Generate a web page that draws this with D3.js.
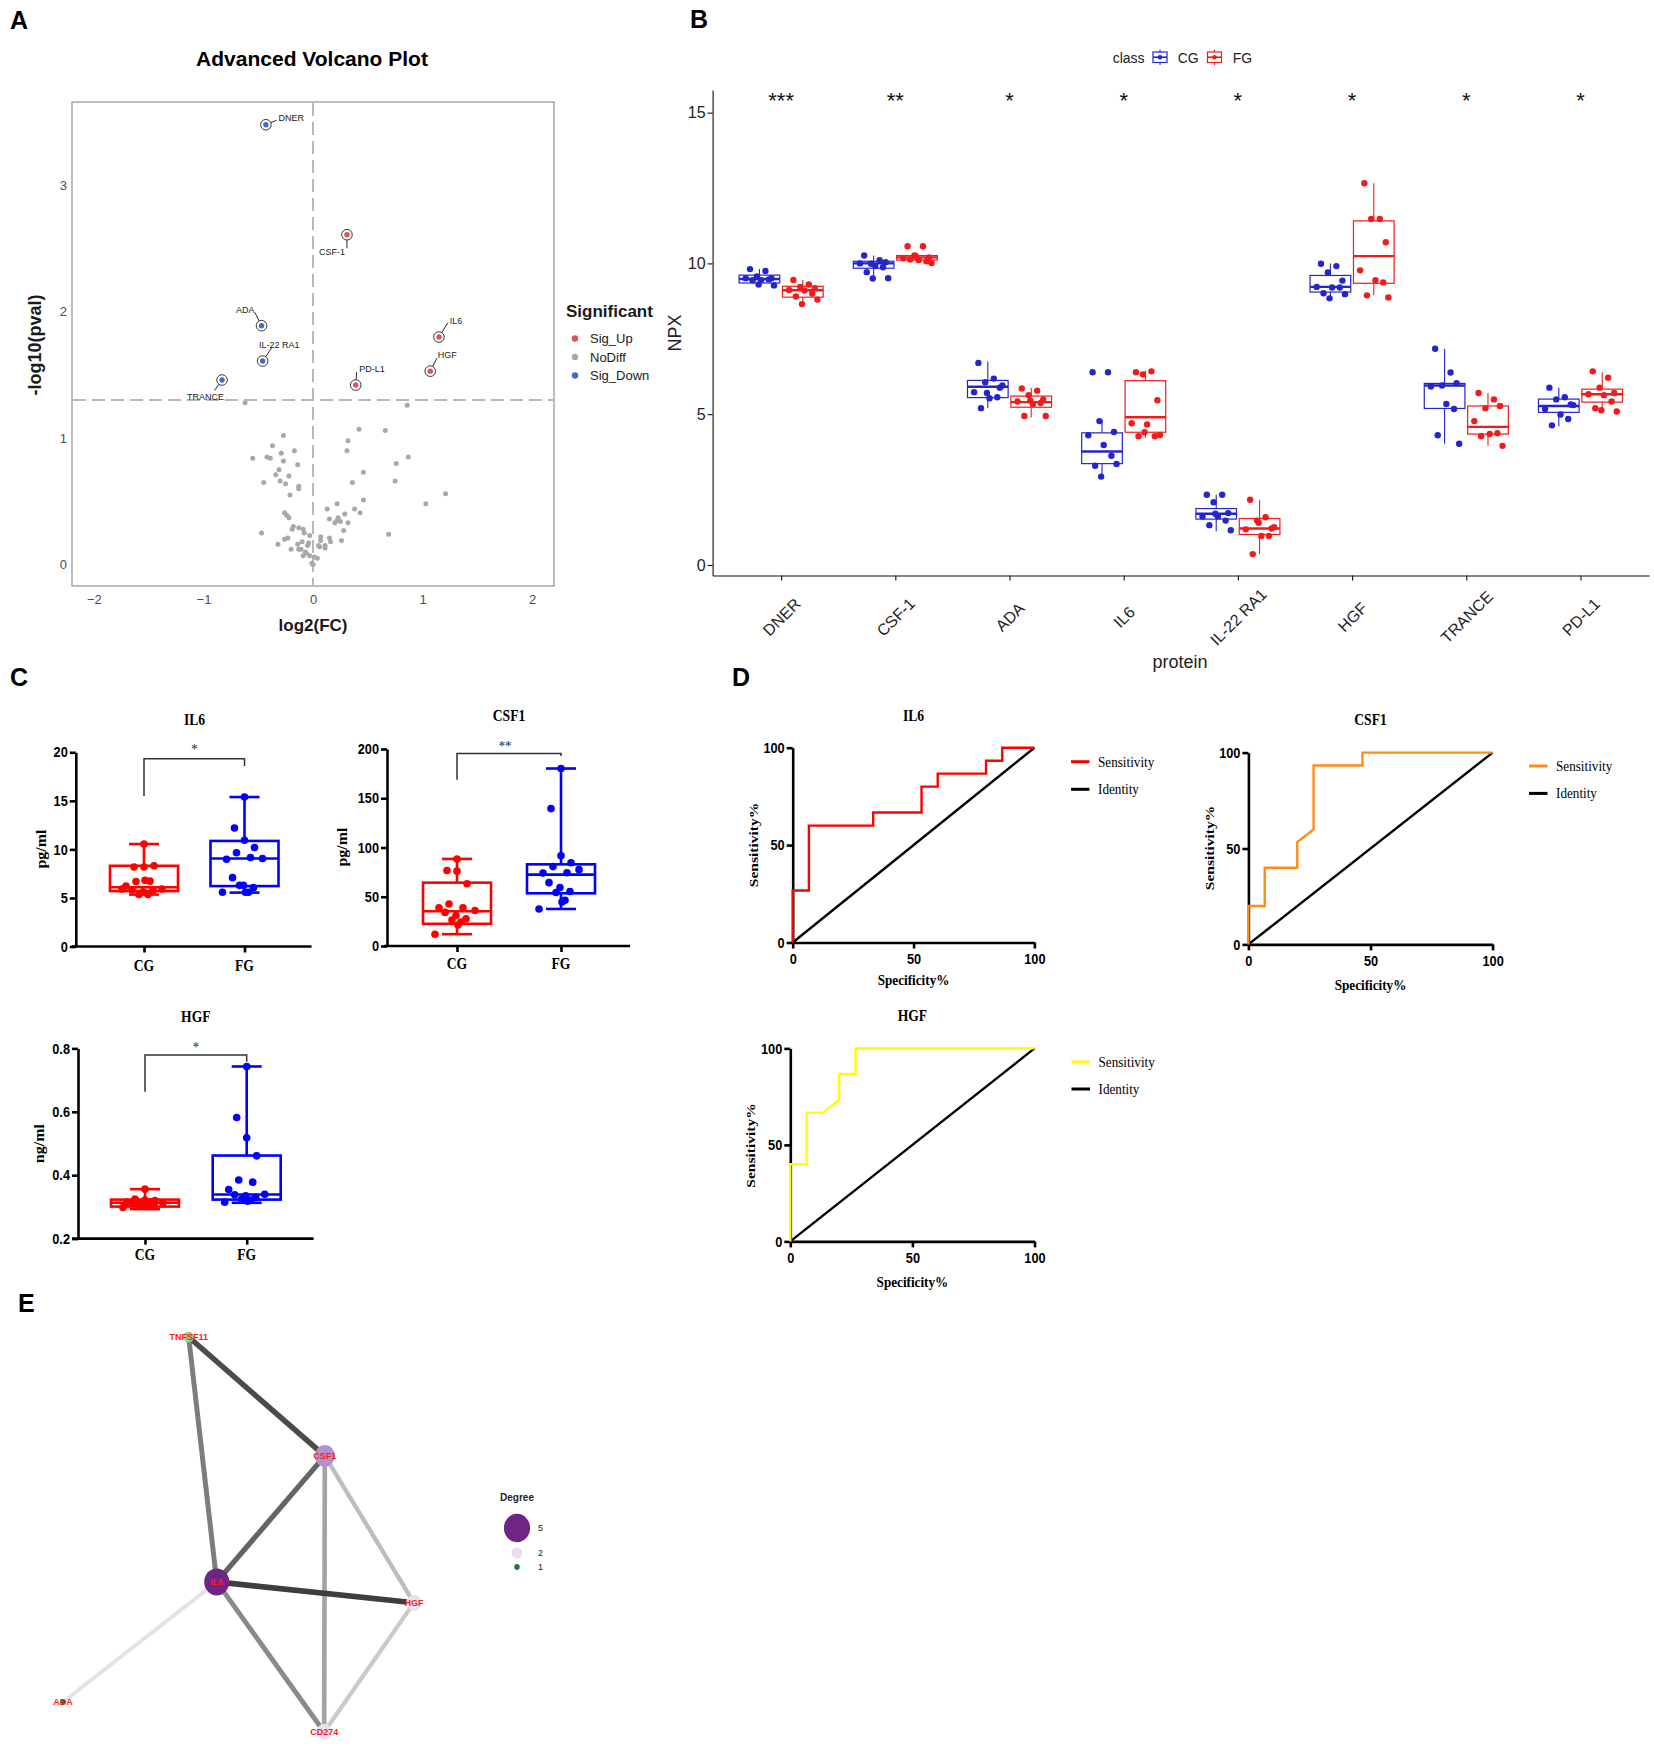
<!DOCTYPE html>
<html>
<head>
<meta charset="utf-8">
<script src="https://cdn.jsdelivr.net/npm/d3@7"></script>
<style>
  body { margin: 0; background: #fff; }
  svg { display: block; }
</style>
</head>
<body>
<div id="fig"></div>
<script>
// ---------------- data ----------------
// A: volcano
var sigLevels = ["Sig_Up", "NoDiff", "Sig_Down"];
var volcanoSig = [
  {gene: "DNER", fc: -0.43, logp: 3.48, sig: "Sig_Down"},
  {gene: "CSF-1", fc: 0.31, logp: 2.61, sig: "Sig_Up"},
  {gene: "ADA", fc: -0.47, logp: 1.89, sig: "Sig_Down"},
  {gene: "IL-22 RA1", fc: -0.46, logp: 1.61, sig: "Sig_Down"},
  {gene: "TRANCE", fc: -0.83, logp: 1.46, sig: "Sig_Down"},
  {gene: "PD-L1", fc: 0.39, logp: 1.42, sig: "Sig_Up"},
  {gene: "HGF", fc: 1.07, logp: 1.53, sig: "Sig_Up"},
  {gene: "IL6", fc: 1.15, logp: 1.80, sig: "Sig_Up"}
];
var volcanoNoDiff = [
  [-0.62,1.28],[0.86,1.26],[-0.27,1.02],[0.42,1.07],[0.66,1.06],[0.32,0.98],[-0.37,0.94],[-0.29,0.88],[-0.17,0.90],[0.31,0.90],
  [-0.55,0.84],[-0.42,0.85],[-0.39,0.84],[-0.27,0.82],[-0.14,0.79],[0.87,0.85],[0.76,0.80],[-0.31,0.75],[-0.34,0.71],[-0.22,0.70],
  [0.46,0.73],[-0.30,0.66],[-0.45,0.65],[-0.25,0.64],[0.75,0.66],[0.36,0.65],[-0.13,0.62],[-0.13,0.60],[1.21,0.56],[-0.21,0.55],
  [0.46,0.51],[1.03,0.48],[0.22,0.48],[0.13,0.44],[0.38,0.44],[0.29,0.40],[0.23,0.37],[0.43,0.41],[-0.26,0.41],[-0.24,0.39],
  [-0.22,0.37],[0.15,0.36],[0.22,0.35],[0.20,0.33],[0.25,0.34],[0.32,0.33],[-0.18,0.30],[-0.19,0.28],[-0.13,0.29],[-0.09,0.28],
  [-0.08,0.25],[0.28,0.27],[-0.47,0.25],[0.69,0.24],[-0.03,0.23],[-0.23,0.21],[-0.26,0.20],[0.07,0.22],[0.15,0.21],[-0.10,0.18],
  [-0.04,0.17],[0.07,0.19],[0.16,0.18],[0.26,0.19],[-0.32,0.16],[-0.14,0.16],[0.05,0.15],[0.11,0.15],[0.11,0.13],[-0.20,0.12],
  [-0.13,0.12],[-0.11,0.12],[-0.05,0.15],[-0.06,0.09],[-0.03,0.07],[-0.07,0.10],[0.01,0.06],[0.04,0.05],[-0.01,0.01],[0.00,0.00],
  [-0.09,0.07],[0.06,0.14]
];

// B: NPX box plots  [lo, q1, median, q3, hi]
var proteins = ["DNER", "CSF-1", "ADA", "IL6", "IL-22 RA1", "HGF", "TRANCE", "PD-L1"];
var classes = ["CG", "FG"];
var npxStars = ["***", "**", "*", "*", "*", "*", "*", "*"];
var npxBoxCG = [
  [9.22, 9.35, 9.48, 9.61, 9.81], [9.50, 9.84, 10.00, 10.07, 10.26], [5.20, 5.55, 5.91, 6.12, 6.75],
  [2.93, 3.36, 3.76, 4.38, 4.81], [1.12, 1.52, 1.70, 1.87, 2.33], [8.79, 9.05, 9.22, 9.60, 10.00],
  [4.02, 5.19, 5.95, 6.02, 7.17], [4.60, 5.06, 5.27, 5.50, 5.88]
];
var npxBoxFG = [
  [8.65, 8.88, 9.11, 9.24, 9.45], [10.00, 10.11, 10.20, 10.26, 10.35], [4.89, 5.23, 5.40, 5.60, 5.88],
  [4.22, 4.40, 4.90, 6.11, 6.45], [0.36, 1.01, 1.21, 1.54, 2.16], [8.94, 9.34, 10.24, 11.41, 12.66],
  [3.95, 4.34, 4.58, 5.27, 5.70], [5.06, 5.40, 5.66, 5.83, 6.39]
];
var npxPointsCG = [
  [9.81, 9.75, 9.57, 9.51, 9.51, 9.44, 9.47, 9.44, 9.27, 9.30],
  [10.26, 10.11, 9.99, 10.04, 10.00, 9.91, 9.87, 9.71, 9.51, 9.50],
  [6.70, 6.18, 6.06, 5.88, 5.73, 5.53, 5.56, 5.20, 5.95, 5.70],
  [6.39, 6.39, 4.77, 4.41, 4.30, 3.98, 3.62, 3.29, 3.35, 2.93],
  [2.33, 2.33, 2.08, 1.72, 1.61, 1.61, 1.47, 1.32, 1.15, 1.70],
  [9.99, 9.91, 9.70, 9.43, 9.22, 9.20, 9.20, 9.01, 8.98, 8.84],
  [7.17, 6.38, 5.95, 6.03, 5.92, 5.34, 5.17, 4.30, 4.02],
  [5.88, 5.56, 5.49, 5.32, 5.17, 4.99, 4.84, 4.63, 5.30]
];
var npxPointsFG = [
  [9.45, 9.30, 9.22, 9.18, 9.12, 9.10, 9.00, 8.90, 8.80, 8.65],
  [10.57, 10.57, 10.26, 10.20, 10.17, 10.11, 10.07, 10.13, 10.01, 10.22],
  [5.85, 5.78, 5.63, 5.49, 5.42, 5.34, 5.37, 4.94, 4.94, 5.45],
  [6.39, 6.42, 6.32, 5.46, 4.70, 4.66, 4.27, 4.27, 4.31, 4.40],
  [2.16, 1.58, 1.47, 1.21, 1.18, 0.96, 0.96, 0.36, 1.25, 1.40],
  [12.66, 11.47, 11.47, 10.70, 9.77, 9.44, 9.37, 8.94, 8.87],
  [5.70, 5.49, 5.20, 5.27, 4.77, 4.34, 4.37, 4.27, 3.95],
  [6.42, 6.21, 5.88, 5.70, 5.66, 5.63, 5.42, 5.20, 5.09, 5.13]
];

// C: ELISA  [min, q1, median, q3, max]
var elisaNames = ["IL6", "CSF1", "HGF"];
var elisaUnits = ["pg/ml", "pg/ml", "ng/ml"];
var elisaStars = ["*", "**", "*"];
var elisaDomains = [[0, 20], [0, 200], [0.2, 0.8]];
var elisaTicks = [[0, 5, 10, 15, 20], [0, 50, 100, 150, 200], [0.2, 0.4, 0.6, 0.8]];
var elisaBoxCG = [[5.35, 5.71, 6.10, 8.31, 10.55], [12.0, 22.5, 35.3, 64.3, 88.4], [0.293, 0.301, 0.313, 0.323, 0.356]];
var elisaBoxFG = [[5.55, 6.22, 9.06, 10.87, 15.39], [37.6, 53.5, 72.5, 82.9, 180.2], [0.313, 0.323, 0.339, 0.462, 0.743]];
var elisaPointsCG = [
  [10.55, 8.19, 8.19, 8.31, 6.69, 6.73, 6.22, 5.91, 5.83, 5.63, 5.83, 5.35, 5.35, 6.81, 5.91],
  [88.4, 76.7, 76.0, 63.2, 42.6, 38.8, 38.8, 36.0, 34.1, 31.0, 27.5, 26.4, 24.4, 21.3, 12.0],
  [0.356, 0.325, 0.322, 0.320, 0.318, 0.316, 0.315, 0.313, 0.312, 0.310, 0.308, 0.306, 0.305, 0.302, 0.298]
];
var elisaPointsFG = [
  [15.39, 12.2, 10.94, 10.2, 9.65, 9.17, 8.98, 9.06, 7.09, 6.3, 6.06, 6.3, 5.59, 5.59, 5.59],
  [180.2, 139.5, 91.5, 84.5, 80.6, 74.4, 74.0, 77.5, 64.3, 59.3, 55.4, 54.3, 46.5, 44.6, 37.6],
  [0.743, 0.582, 0.518, 0.461, 0.385, 0.378, 0.355, 0.340, 0.338, 0.335, 0.330, 0.325, 0.322, 0.318, 0.315]
];

// D: ROC curves  [100 - specificity, sensitivity]
var rocNames = ["IL6", "CSF1", "HGF"];
var rocColors = ["#ff0000", "#ff8c1a", "#ffff00"];
var rocIL6 = [[0,0],[0,26.7],[6.7,26.7],[6.7,60],[33.3,60],[33.3,66.7],[53.3,66.7],[53.3,80],[60,80],[60,86.7],[80,86.7],[80,93.3],[86.7,93.3],[86.7,100],[100,100]];
var rocCSF1 = [[0,0],[0,20],[6.7,20],[6.7,40],[20,40],[20,53.3],[26.7,60],[26.7,93.3],[46.7,93.3],[46.7,100],[100,100]];
var rocHGF = [[0,0],[0,40],[6.7,40],[6.7,66.7],[13.3,66.7],[20,73.3],[20,86.7],[26.7,86.7],[26.7,100],[100,100]];
var rocIdentity = [[0,0],[100,100]];

// E: interaction network (layout units 0-100)
var netNodes = [
  {id: "TNFSF11", x: 35.8, y: 0, degree: 2},
  {id: "CSF1", x: 74.6, y: 30.1, degree: 4},
  {id: "IL6", x: 43.8, y: 62, degree: 5},
  {id: "HGF", x: 100, y: 67.3, degree: 3},
  {id: "ADA", x: 0, y: 92.4, degree: 1},
  {id: "CD274", x: 74.4, y: 100, degree: 3}
];
var netEdges = [
  ["IL6", "ADA", 0.30], ["HGF", "CD274", 0.40], ["CSF1", "HGF", 0.45], ["CSF1", "CD274", 0.55],
  ["IL6", "CD274", 0.65], ["TNFSF11", "IL6", 0.70], ["CSF1", "IL6", 0.80], ["TNFSF11", "CSF1", 0.90],
  ["IL6", "HGF", 0.95]
];
var degreeLegend = [5, 2, 1];

// ---------------- layout ----------------
var W = 1654, H = 1747;
var SANS = "'Liberation Sans', Arial, sans-serif";
var SERIF = "'Liberation Serif', 'Times New Roman', serif";

var svg = d3.select("#fig").append("svg")
  .attr("width", W).attr("height", H)
  .style("font-family", SANS);
svg.append("rect").attr("width", W).attr("height", H).attr("fill", "#fff");

function txt(g, x, y, s, o) {
  o = o || {};
  var sx = o.sx == null ? 1 : o.sx;
  var tr = "translate(" + x + "," + y + ")";
  if (o.rot) tr += " rotate(" + o.rot + ") scale(1," + sx + ")";
  else tr += " scale(" + sx + ",1)";
  return g.append("text")
    .attr("transform", tr)
    .attr("text-anchor", o.anchor || "middle")
    .attr("dominant-baseline", o.base || "auto")
    .style("font-family", o.font || SANS)
    .style("font-size", (o.size || 12) + "px")
    .style("font-weight", o.bold ? "bold" : "normal")
    .style("fill", o.fill || "#000")
    .text(s);
}

// panel letters
[["A", 10, 29], ["B", 690, 28], ["C", 10, 686], ["D", 732, 686], ["E", 18, 1312]].forEach(function(p) {
  txt(svg, p[1], p[2], p[0], {anchor: "start", size: 25, bold: true});
});

// ================= A: volcano =================
var gA = svg.append("g");
var xA = d3.scaleLinear().domain([-2.2, 2.2]).range([72, 554]);
var yA = d3.scaleLinear().domain([-0.17, 3.66]).range([586, 102]);
var sigColor = d3.scaleOrdinal().domain(sigLevels).range(["#e0505f", "#a8a8a8", "#3b72bf"]);

txt(gA, 312, 66, "Advanced Volcano Plot", {size: 21, bold: true});

gA.append("g").attr("transform", "translate(0,586)")
  .call(d3.axisBottom(xA).tickValues([-2, -1, 0, 1, 2]).tickSize(0).tickPadding(9).tickFormat(d3.format("d")))
  .call(function(g) { g.select(".domain").remove(); })
  .selectAll("text").style("font-size", "13px").style("fill", "#4d4d4d").style("font-family", SANS);
gA.append("g").attr("transform", "translate(72,0)")
  .call(d3.axisLeft(yA).tickValues([0, 1, 2, 3]).tickSize(0).tickPadding(5).tickFormat(d3.format("d")))
  .call(function(g) { g.select(".domain").remove(); })
  .selectAll("text").style("font-size", "13px").style("fill", "#4d4d4d").style("font-family", SANS);

// threshold lines
gA.append("line").attr("x1", xA(0)).attr("x2", xA(0)).attr("y1", 103).attr("y2", 585)
  .attr("stroke", "#b8b8b8").attr("stroke-width", 2).attr("stroke-dasharray", "13,6");
gA.append("line").attr("x1", 73).attr("x2", 553).attr("y1", yA(-Math.log10(0.05))).attr("y2", yA(-Math.log10(0.05)))
  .attr("stroke", "#b8b8b8").attr("stroke-width", 2).attr("stroke-dasharray", "13,6");

gA.append("g").selectAll("circle").data(volcanoNoDiff).enter().append("circle")
  .attr("cx", function(d) { return xA(d[0]); })
  .attr("cy", function(d) { return yA(d[1]); })
  .attr("r", 2.5)
  .attr("fill", sigColor("NoDiff"));

// repel label placement (pixels relative to point)
var labelPos = {
  "DNER":      {dx: 12.5, dy: -6.3, anchor: "start", sx: 10.5, sy: -4.5},
  "CSF-1":     {dx: -2, dy: 17.3, anchor: "end", sx: 0, sy: 13.5},
  "ADA":       {dx: -7, dy: -16, anchor: "end", sx: -6.7, sy: -13.3},
  "IL-22 RA1": {dx: 16.7, dy: -16, anchor: "middle", sx: 9.3, sy: -13.5},
  "TRANCE":    {dx: -16.5, dy: 16.8, anchor: "middle", sx: -7.6, sy: 10.5},
  "PD-L1":     {dx: 3.6, dy: -16.4, anchor: "start", sx: 0.9, sy: -13},
  "HGF":       {dx: 7.6, dy: -16, anchor: "start", sx: 6.7, sy: -13},
  "IL6":       {dx: 10.7, dy: -16, anchor: "start", sx: 8.9, sy: -14.3}
};
var sigG = gA.append("g");
volcanoSig.forEach(function(d) {
  var px = xA(d.fc), py = yA(d.logp), L = labelPos[d.gene];
  var len = Math.sqrt(L.sx * L.sx + L.sy * L.sy);
  sigG.append("line")
    .attr("x1", px + L.sx / len * 5.3).attr("y1", py + L.sy / len * 5.3)
    .attr("x2", px + L.sx).attr("y2", py + L.sy)
    .attr("stroke", "#111").attr("stroke-width", 0.9);
  sigG.append("circle").attr("cx", px).attr("cy", py).attr("r", 5.3)
    .attr("fill", "none").attr("stroke", "#222").attr("stroke-width", 0.9);
  sigG.append("circle").attr("cx", px).attr("cy", py).attr("r", 2.7).attr("fill", sigColor(d.sig));
  txt(sigG, px + L.dx, py + L.dy, d.gene, {anchor: L.anchor, base: "central", size: 9, fill: "#1a1a1a"});
});

gA.append("rect").attr("x", 72).attr("y", 102).attr("width", 482).attr("height", 484)
  .attr("fill", "none").attr("stroke", "#9a9a9a").attr("stroke-width", 1.3);

txt(gA, 313, 631, "log2(FC)", {size: 17, bold: true, fill: "#1a1a1a"});
txt(gA, 41, 345, "-log10(pval)", {size: 18, bold: true, rot: -90, fill: "#1a1a1a"});

// legend
txt(gA, 566, 317, "Significant", {anchor: "start", size: 17, bold: true, fill: "#1a1a1a"});
sigLevels.forEach(function(s, i) {
  var yy = 338.5 + i * 18.5;
  gA.append("circle").attr("cx", 575).attr("cy", yy).attr("r", 3.2).attr("fill", sigColor(s));
  txt(gA, 590, yy, s, {anchor: "start", base: "central", size: 13, fill: "#1a1a1a"});
});

// ================= B: NPX boxplots =================
var gB = svg.append("g");
var xB = d3.scalePoint().domain(proteins).range([712.6, 1649]).padding(0.6);
var stepB = xB.step();
var yB = d3.scaleLinear().domain([-0.35, 15.75]).range([575.5, 90]);
var classColor = d3.scaleOrdinal().domain(classes).range(["#2525cc", "#f01c1c"]);
var jitB = [-0.55, 0.35, -0.15, 0.7, -0.8, 0.1, 0.55, -0.4, 0.85, -0.05];

var axXB = gB.append("g").attr("transform", "translate(0,575.5)")
  .call(d3.axisBottom(xB).tickSize(5).tickSizeOuter(0));
axXB.selectAll("text")
  .attr("y", 0).attr("dy", "0.35em")
  .attr("transform", "translate(0,41.5) rotate(-45)")
  .style("text-anchor", "middle").style("font-size", "16px").style("fill", "#222").style("font-family", SANS);
var axYB = gB.append("g").attr("transform", "translate(712.6,0)")
  .call(d3.axisLeft(yB).tickValues([0, 5, 10, 15]).tickSize(5).tickPadding(2).tickSizeOuter(0));
axYB.selectAll("text").style("font-size", "16px").style("fill", "#222").style("font-family", SANS);
[axXB, axYB].forEach(function(a) { a.selectAll("path,line").attr("stroke", "#111").attr("stroke-width", 1.1); });

proteins.forEach(function(p, i) {
  classes.forEach(function(c, j) {
    var st = (j === 0 ? npxBoxCG : npxBoxFG)[i];
    var pts = (j === 0 ? npxPointsCG : npxPointsFG)[i];
    var col = classColor(c);
    var cx = xB(p) + (j === 0 ? -1 : 1) * 0.19 * stepB;
    var hw = 0.178 * stepB;
    var g = gB.append("g");
    g.append("line").attr("x1", cx).attr("x2", cx).attr("y1", yB(st[0])).attr("y2", yB(st[1]))
      .attr("stroke", col).attr("stroke-width", 1.1);
    g.append("line").attr("x1", cx).attr("x2", cx).attr("y1", yB(st[3])).attr("y2", yB(st[4]))
      .attr("stroke", col).attr("stroke-width", 1.1);
    g.append("rect").attr("x", cx - hw).attr("width", 2 * hw)
      .attr("y", yB(st[3])).attr("height", yB(st[1]) - yB(st[3]))
      .attr("fill", "#fff").attr("stroke", col).attr("stroke-width", 1.2);
    g.append("line").attr("x1", cx - hw).attr("x2", cx + hw).attr("y1", yB(st[2])).attr("y2", yB(st[2]))
      .attr("stroke", col).attr("stroke-width", 2.4);
    g.selectAll("circle").data(pts).enter().append("circle")
      .attr("cx", function(d, k) { return cx + jitB[k % jitB.length] * 0.15 * stepB; })
      .attr("cy", function(d) { return yB(d); })
      .attr("r", 3.2).attr("fill", col);
  });
  txt(gB, xB(p), yB(15.15), npxStars[i], {size: 22, fill: "#111"});
});

txt(gB, 1180, 668, "protein", {size: 18, fill: "#222"});
txt(gB, 681, 333, "NPX", {size: 18, rot: -90, fill: "#222"});

// legend
txt(gB, 1112.7, 63, "class", {anchor: "start", size: 14, fill: "#222"});
classes.forEach(function(c, j) {
  var lx = j === 0 ? 1153 : 1207.5, col = classColor(c);
  var g = gB.append("g");
  g.append("line").attr("x1", lx + 7).attr("x2", lx + 7).attr("y1", 49.5).attr("y2", 65).attr("stroke", col).attr("stroke-width", 1);
  g.append("rect").attr("x", lx).attr("y", 52).attr("width", 14).attr("height", 10.5)
    .attr("fill", "#fff").attr("stroke", col).attr("stroke-width", 1.2);
  g.append("line").attr("x1", lx).attr("x2", lx + 14).attr("y1", 57.2).attr("y2", 57.2).attr("stroke", col).attr("stroke-width", 1.6);
  g.append("circle").attr("cx", lx + 7).attr("cy", 57.2).attr("r", 2.3).attr("fill", col);
  txt(gB, j === 0 ? 1177.7 : 1232.7, 63, c, {anchor: "start", size: 14, fill: "#222"});
});

// ================= C: ELISA boxplots =================
var gC = svg.append("g");
var SQ = 0.85, SQT = 0.88, TICK = 14.5;
var cLayout = [
  {ax: 75.8, x0: 71.6, x1: 311.5, cg: 144, fg: 244.5, top: 752.3, bot: 946.5, tx: 194.5, ty: 724.5, ux: 46, uy: 849, labY: 970.5, br: [796, 758.7, 766], sx: 194.5, sy: 754},
  {ax: 387, x0: 384, x1: 630, cg: 457, fg: 561, top: 749, bot: 946, tx: 509, ty: 721, ux: 347, uy: 847, labY: 969, br: [779.8, 753.4, 756], sx: 505, sy: 750.5},
  {ax: 78, x0: 72, x1: 313.6, cg: 145, fg: 246.7, top: 1048.4, bot: 1238.6, tx: 195.8, ty: 1022, ux: 44, uy: 1143.6, labY: 1259.5, br: [1091.7, 1055, 1061.8], sx: 196, sy: 1051.5}
];
var elisaColor = d3.scaleOrdinal().domain(classes).range(["#ff0000", "#0000ff"]);
var jitC = [0, -10, 0, 10, -8, 6, -18, 18, -12, -1, 9, -5, 4, 1, -22];

function condense(axisG, sx, left) {
  axisG.selectAll(".tick text").each(function() {
    var t = d3.select(this);
    if (left) t.attr("x", +t.attr("x") / sx);
    t.attr("transform", "scale(" + sx + ",1)");
  });
}

elisaNames.forEach(function(name, i) {
  var L = cLayout[i];
  var g = gC.append("g");
  var y = d3.scaleLinear().domain(elisaDomains[i]).range([L.bot, L.top]);
  var x = d3.scalePoint().domain(classes).range([L.cg, L.fg]);
  var fmt = i === 2 ? d3.format(".1f") : d3.format("d");

  var ay = g.append("g").attr("transform", "translate(" + L.ax + ",0)")
    .call(d3.axisLeft(y).tickValues(elisaTicks[i]).tickSize(6).tickPadding(2).tickSizeOuter(0).tickFormat(fmt));
  var ax = g.append("g").attr("transform", "translate(0," + L.bot + ")")
    .call(d3.axisBottom(x).tickSize(6).tickSizeOuter(0).tickFormat(""));
  ax.select(".domain").remove();
  ax.append("line").attr("x1", L.x0).attr("x2", L.x1).attr("y1", 0).attr("y2", 0);
  [ay, ax].forEach(function(a) {
    a.selectAll("path,line").attr("stroke", "#000").attr("stroke-width", 2.6);
  });
  ay.selectAll("text").style("font-size", TICK + "px").style("font-weight", "bold").style("fill", "#000").style("font-family", SANS);
  condense(ay, SQT, true);

  classes.forEach(function(c) {
    txt(g, x(c), L.labY, c, {size: 16, bold: true, font: SERIF, sx: SQ});
  });

  classes.forEach(function(c, j) {
    var st = (j === 0 ? elisaBoxCG : elisaBoxFG)[i];
    var pts = (j === 0 ? elisaPointsCG : elisaPointsFG)[i];
    var col = elisaColor(c), cx = x(c), hw = 34, cw = 15;
    var bg = g.append("g").attr("stroke", col).attr("stroke-width", 2.6).attr("fill", "none");
    bg.append("line").attr("x1", cx).attr("x2", cx).attr("y1", y(st[0])).attr("y2", y(st[1]));
    bg.append("line").attr("x1", cx).attr("x2", cx).attr("y1", y(st[3])).attr("y2", y(st[4]));
    bg.append("line").attr("x1", cx - cw).attr("x2", cx + cw).attr("y1", y(st[0])).attr("y2", y(st[0]));
    bg.append("line").attr("x1", cx - cw).attr("x2", cx + cw).attr("y1", y(st[4])).attr("y2", y(st[4]));
    bg.append("rect").attr("x", cx - hw).attr("width", 2 * hw).attr("y", y(st[3])).attr("height", y(st[1]) - y(st[3]));
    bg.append("line").attr("x1", cx - hw).attr("x2", cx + hw).attr("y1", y(st[2])).attr("y2", y(st[2]));
    g.append("g").selectAll("circle").data(pts).enter().append("circle")
      .attr("cx", function(d, k) { return cx + jitC[k % jitC.length]; })
      .attr("cy", function(d) { return y(d); })
      .attr("r", 3.8).attr("fill", col);
  });

  // title, unit, significance bracket
  txt(g, L.tx, L.ty, name, {size: 16, bold: true, font: SERIF, sx: SQ});
  txt(g, L.ux, L.uy, elisaUnits[i], {size: 16, bold: true, font: SERIF, rot: -90, sx: SQ});
  g.append("path")
    .attr("d", "M" + L.cg + "," + L.br[0] + "V" + L.br[1] + "H" + L.fg + "V" + L.br[2])
    .attr("fill", "none").attr("stroke", "#333").attr("stroke-width", 1.5);
  txt(g, L.sx, L.sy, elisaStars[i], {size: 15, font: SERIF, sx: SQ, fill: "#222"});
});

// ================= D: ROC curves =================
var gD = svg.append("g");
var dLayout = [
  {x0: 792.7, x1: 1034.4, y0: 942.5, y1: 747.7, tx: 913.5, ty: 721, slx: 758, sly: 845, xly: 984.5, legX: 1071, legY: 761.7, gap: 27.6},
  {x0: 1248.4, x1: 1492.6, y0: 944.4, y1: 752.6, tx: 1370.5, ty: 725, slx: 1213.5, sly: 848, xly: 990, legX: 1529, legY: 766, gap: 27.4},
  {x0: 790.3, x1: 1034.5, y0: 1241.4, y1: 1048.4, tx: 912.4, ty: 1021, slx: 755, sly: 1145.5, xly: 1286.5, legX: 1071.5, legY: 1062, gap: 27}
];
var rocData = [rocIL6, rocCSF1, rocHGF];

rocNames.forEach(function(name, i) {
  var L = dLayout[i];
  var g = gD.append("g");
  var x = d3.scaleLinear().domain([0, 100]).range([L.x0, L.x1]);
  var y = d3.scaleLinear().domain([0, 100]).range([L.y0, L.y1]);
  var ax = g.append("g").attr("transform", "translate(0," + L.y0 + ")")
    .call(d3.axisBottom(x).tickValues([0, 50, 100]).tickSize(6).tickPadding(5).tickSizeOuter(0));
  var ay = g.append("g").attr("transform", "translate(" + L.x0 + ",0)")
    .call(d3.axisLeft(y).tickValues([0, 50, 100]).tickSize(6).tickPadding(2).tickSizeOuter(0));
  [ax, ay].forEach(function(a) {
    a.selectAll("path,line").attr("stroke", "#000").attr("stroke-width", 2.6);
    a.selectAll("text").style("font-size", TICK + "px").style("font-weight", "bold").style("fill", "#000").style("font-family", SANS);
  });
  condense(ax, SQT, false);
  condense(ay, SQT, true);

  var line = d3.line().x(function(d) { return x(d[0]); }).y(function(d) { return y(d[1]); });
  g.append("path").datum(rocIdentity).attr("d", line)
    .attr("fill", "none").attr("stroke", "#000").attr("stroke-width", 2.4);
  g.append("path").datum(rocData[i]).attr("d", line)
    .attr("fill", "none").attr("stroke", rocColors[i]).attr("stroke-width", 2.4);

  txt(g, L.tx, L.ty, name, {size: 16, bold: true, font: SERIF, sx: SQ});
  txt(g, (L.x0 + L.x1) / 2, L.xly, "Specificity%", {size: 15.5, bold: true, font: SERIF, sx: SQ});
  txt(g, L.slx, L.sly, "Sensitivity%", {size: 15.5, bold: true, font: SERIF, rot: -90, sx: SQ});

  [["Sensitivity", rocColors[i]], ["Identity", "#000"]].forEach(function(it, k) {
    var ly = L.legY + k * L.gap;
    g.append("line").attr("x1", L.legX).attr("x2", L.legX + 18.5).attr("y1", ly).attr("y2", ly)
      .attr("stroke", it[1]).attr("stroke-width", 3);
    txt(g, L.legX + 27, ly + 5, it[0], {anchor: "start", size: 15.5, font: SERIF, sx: SQ});
  });
});

// ================= E: network =================
var gE = svg.append("g");
var xE = d3.scaleLinear().domain([0, 100]).range([63, 414]);
var yE = d3.scaleLinear().domain([0, 100]).range([1337, 1732]);
var degSize = d3.scaleLinear().domain([1, 5]).range([2.6, 12.5]);
var degColor = d3.scaleOrdinal().domain([1, 2, 3, 4, 5]).range(["#1e7b34", "#8dd48d", "#ecdff1", "#b391ca", "#6f2585"]);
var legendColor = d3.scaleOrdinal().domain(degreeLegend).range(["#6f2585", "#eadcef", "#1e7b34"]);
var edgeColor = d3.scaleLinear().domain([0.3, 0.95]).range(["#e3e3e3", "#3e3e3e"]);
var edgeWidth = d3.scaleLinear().domain([0.3, 0.95]).range([4, 5.6]);
var nodeById = {};
netNodes.forEach(function(n) { nodeById[n.id] = n; });

gE.append("g").selectAll("line").data(netEdges).enter().append("line")
  .attr("x1", function(d) { return xE(nodeById[d[0]].x); })
  .attr("y1", function(d) { return yE(nodeById[d[0]].y); })
  .attr("x2", function(d) { return xE(nodeById[d[1]].x); })
  .attr("y2", function(d) { return yE(nodeById[d[1]].y); })
  .attr("stroke", function(d) { return edgeColor(d[2]); })
  .attr("stroke-width", function(d) { return edgeWidth(d[2]); });

gE.append("g").selectAll("ellipse").data(netNodes).enter().append("ellipse")
  .attr("cx", function(d) { return xE(d.x); })
  .attr("cy", function(d) { return yE(d.y); })
  .attr("rx", function(d) { return degSize(d.degree); })
  .attr("ry", function(d) { return degSize(d.degree) * 1.08; })
  .attr("fill", function(d) { return degColor(d.degree); });

netNodes.forEach(function(n) {
  txt(gE, xE(n.x), yE(n.y), n.id, {base: "central", size: 9, bold: true, fill: "#ff1a1a"});
});

txt(gE, 517, 1501, "Degree", {size: 10, bold: true, fill: "#222"});
var legY = [1528, 1553, 1567];
degreeLegend.forEach(function(dg, k) {
  var r = degSize(dg) * 1.05;
  gE.append("ellipse").attr("cx", 517).attr("cy", legY[k]).attr("rx", r).attr("ry", r * 1.08)
    .attr("fill", legendColor(dg));
  txt(gE, 540.5, legY[k], String(dg), {base: "central", size: 9, fill: "#222"});
});
</script>
</body>
</html>
